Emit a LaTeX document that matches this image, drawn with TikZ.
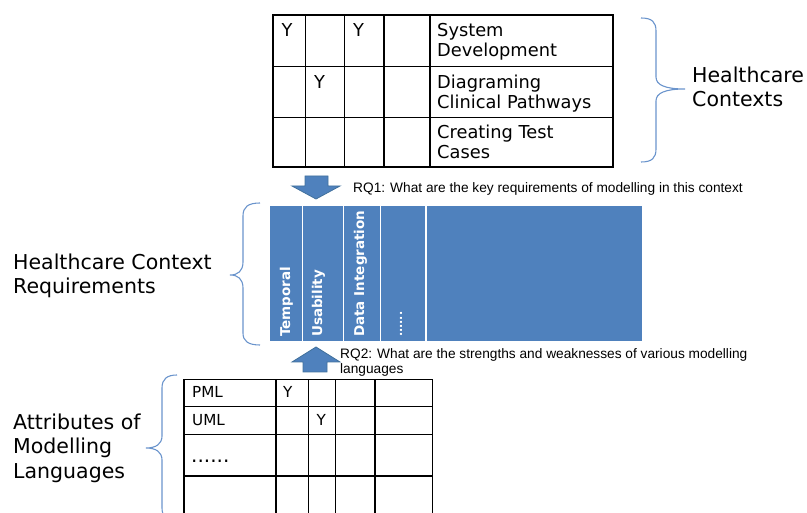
\documentclass[tikz,border=0pt]{standalone}
\usepackage{fontspec}
\setmainfont{DejaVu Sans}
\newfontfamily\rqfont{Liberation Sans}
\definecolor{reqblue}{HTML}{4F81BD}
\definecolor{arrowline}{HTML}{41719C}
\definecolor{braceblue}{HTML}{6A94CC}

\begin{document}
\begin{tikzpicture}[
  x=1pt, y=-1pt,
  every node/.style={inner sep=0pt, anchor=base west, align=left},
  biglabel/.style={font=\fontsize{20.5}{24.5}\selectfont},
  ctxcell/.style={font=\fontsize{17.8}{20}\selectfont},
  langcell/.style={font=\fontsize{15.2}{18}\selectfont},
  reqlabel/.style={rotate=90, text=white, font=\bfseries\fontsize{13.5}{16}\selectfont},
  question/.style={font=\rqfont\fontsize{13.7}{15}\selectfont},
  tablerule/.style={draw=black, line width=1.2pt},
  curly/.style={draw=braceblue, line width=1.1pt},
  blockarrow/.style={fill=reqblue, draw=arrowline, line width=0.8pt}
]
\useasboundingbox (0,0) rectangle (807,513);
\clip (0,0) rectangle (807,513);

% healthcare contexts table (multi-line nodes sit on their last baseline)
\draw[tablerule] (273,15) rectangle (613,167);
\foreach \x in {305.5,344.5,384,430}
  \draw[tablerule] (\x,15) -- (\x,167);
\foreach \y in {66.5,117.5}
  \draw[tablerule] (273,\y) -- (613,\y);
\node[ctxcell] (sysdev) at (437,56.7) {System\\Development};
\node[ctxcell] (clinpath) at (437,108.3) {Diagraming\\Clinical Pathways};
\node[ctxcell] (testcases) at (437,158.3) {Creating Test\\Cases};
\node[ctxcell] (yA) at (281.5,36.7) {Y};
\node[ctxcell] (yB) at (353,36.7) {Y};
\node[ctxcell] (yC) at (314,88.3) {Y};

\draw[curly] (641,18) .. controls (652,18) and (656,22) .. (656,31) -- (656,77)
  .. controls (656,85) and (665,89) .. (685,89)
  .. controls (665,89) and (656,93) .. (656,101) -- (656,149)
  .. controls (656,158) and (652,162) .. (641,162);
\node[biglabel] (contexts) at (692,106.7) {Healthcare\\Contexts};

% RQ1
\draw[blockarrow] (305,176) -- (328,176) -- (328,186) -- (340,186) -- (316,199)
  -- (292,186) -- (305,186) -- cycle;
\node[question] (rqone) at (353,193)
  {RQ1: What are the key requirements of modelling in this context};

% requirements band
\fill[reqblue] (270,206) rectangle (642,341);
\foreach \x in {302.3,343.3,380.7,426}
  \draw[white, line width=1.4pt] (\x,206) -- (\x,341);
\node[reqlabel] (temporal) at (290,337) {Temporal};
\node[reqlabel] (usability) at (322,337) {Usability};
\node[reqlabel] (dataint) at (364,337) {Data Integration};
\node[reqlabel, font=\bfseries\fontsize{11}{13}\selectfont] (moreq) at (402,337) {......};

\draw[curly] (260,203) .. controls (248,203) and (243,207) .. (243,216) -- (243,262)
  .. controls (243,271) and (238,275) .. (230,275)
  .. controls (238,275) and (243,279) .. (243,288) -- (243,333)
  .. controls (243,341) and (248,345) .. (260,345);
\node[biglabel] (requirements) at (13,294) {Healthcare Context\\Requirements};

% RQ2
\draw[blockarrow] (316,347) -- (340,362) -- (327,362) -- (327,372) -- (303,372)
  -- (303,362) -- (292,362) -- cycle;
\node[question] (rqtwo) at (340,373.3)
  {RQ2: What are the strengths and weaknesses of various modelling\\languages};

% modelling languages table, runs off the bottom edge
\draw[tablerule] (184,513) -- (184,379.5) -- (432.7,379.5) -- (432.7,513);
\foreach \x in {276,308.3,335.7,375}
  \draw[tablerule] (\x,379.5) -- (\x,513);
\foreach \y in {406.7,434.3,476}
  \draw[tablerule] (184,\y) -- (432.7,\y);
\node[langcell] (pml) at (192,398) {PML};
\node[langcell] (uml) at (192,426) {UML};
\node[langcell, font=\fontsize{20}{24}\selectfont] (morelang) at (191,462) {......};
\node[langcell] (yD) at (283,398) {Y};
\node[langcell] (yE) at (316.5,426) {Y};

\draw[curly] (177,375) .. controls (167,375) and (162,379) .. (162,388) -- (162,436)
  .. controls (162,444) and (156,448) .. (146,448)
  .. controls (156,448) and (162,452) .. (162,460) -- (162,508)
  .. controls (162,517) and (167,521) .. (177,521);
\node[biglabel] (attributes) at (13,478.3) {Attributes of\\Modelling\\Languages};
\end{tikzpicture}
\end{document}
